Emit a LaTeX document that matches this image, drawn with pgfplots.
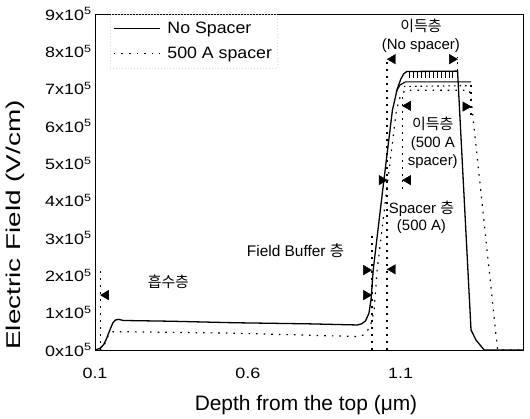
\documentclass[border=0pt]{standalone}
\usepackage{fontspec}
\setmainfont{Liberation Sans}
\newfontfamily\kr{Noto Sans CJK KR}
\newfontfamily\tickfam{Liberation Sans}[FakeStretch=1.2]
\newfontfamily\ylabfam{Liberation Sans}[FakeStretch=1.4]
\newfontfamily\legfam{Liberation Sans}[FakeStretch=1.08]
\usepackage{pgfplots}
\pgfplotsset{compat=1.18}

\begin{document}
\begin{tikzpicture}
\begin{axis}[
  width=428bp, height=336bp, scale only axis,
  xmin=0.1, xmax=1.5, ymin=0, ymax=9,
  clip=false,
  xtick={0.1,0.6,1.1}, xticklabels={0.1,0.6,1.1},
  ytick={0,1,2,3,4,5,6,7,8,9},
  yticklabels={0x10\textsuperscript{5},1x10\textsuperscript{5},2x10\textsuperscript{5},3x10\textsuperscript{5},4x10\textsuperscript{5},5x10\textsuperscript{5},6x10\textsuperscript{5},7x10\textsuperscript{5},8x10\textsuperscript{5},9x10\textsuperscript{5}},
  major tick length=0pt,
  tick label style={font={\tickfam\fontsize{15}{18}\selectfont}},
  xticklabel style={yshift=-15pt},
  xlabel={Depth from the top (μm)},
  ylabel={Electric Field (V/cm)},
  xlabel style={font={\fontsize{21}{24}\selectfont}, at={(rel axis cs:0.493,-0.164)}, anchor=center},
  ylabel style={font={\ylabfam\fontsize{20}{24}\selectfont}, at={(rel axis cs:-0.185,0.372)}, anchor=center},
  legend style={at={(rel axis cs:0.035,1)}, anchor=north west, draw=gray!30,
    dash pattern=on 1pt off 2pt, line width=0.4pt, fill=none,
    font={\legfam\fontsize{16.5}{19}\selectfont}, row sep=8pt, column sep=5pt,
    inner xsep=3pt, inner ysep=6pt},
  legend cell align=left,
  legend image code/.code={\draw[#1] (0bp,0bp) -- (46bp,0bp);},
]
% No spacer
\addplot[black, line width=1.3pt, solid] coordinates {
  (0.100,0.00) (0.116,0.04) (0.128,0.14) (0.136,0.27) (0.149,0.54) (0.158,0.72)
  (0.166,0.80) (0.177,0.82) (0.193,0.79) (0.350,0.77) (0.554,0.73) (0.800,0.70)
  (0.958,0.67) (0.972,0.70) (0.985,0.78) (0.996,0.98) (1.003,1.35) (1.010,2.14)
  (1.045,4.55) (1.073,6.43) (1.089,7.00) (1.100,7.25) (1.110,7.40) (1.120,7.46)
  (1.286,7.47) (1.330,0.54) (1.346,0.27) (1.373,0.00) (1.500,0.00)};
\addlegendentry{No Spacer}
% 500 A spacer
\addplot[black, line width=1.2pt, dash pattern=on 1.6pt off 6pt] coordinates {
  (0.116,0.00) (0.125,0.06) (0.133,0.18) (0.144,0.40) (0.155,0.49) (0.182,0.49)
  (0.554,0.45) (0.958,0.36) (0.975,0.39) (0.990,0.50) (1.002,0.67) (1.013,1.07)
  (1.023,2.14) (1.058,4.55) (1.086,6.43) (1.100,6.83) (1.116,6.96) (1.324,6.96)
  (1.330,6.74) (1.417,0.00) (1.500,0.00)};
\addlegendentry{500 A spacer}
% second plateaus
\addplot[black, line width=1.1pt, forget plot] coordinates {
  (1.085,6.92) (1.098,7.10) (1.115,7.18) (1.330,7.18)};
\addplot[black, line width=1.1pt, dash pattern=on 1.6pt off 4pt, forget plot] coordinates {
  (1.110,7.06) (1.325,7.08)};
\addplot[black, only marks, mark=|, mark size=3.3pt, line width=1pt, forget plot] coordinates {
  (1.128,7.37) (1.141,7.37) (1.154,7.37) (1.167,7.37) (1.180,7.37) (1.193,7.37)
  (1.206,7.37) (1.219,7.37) (1.232,7.37) (1.245,7.37) (1.258,7.37) (1.271,7.37)};
% layer boundaries
\addplot[black, line width=1.8pt, dash pattern=on 2pt off 5pt, forget plot] coordinates {(0.118,0) (0.118,2.2)};
\addplot[black, line width=1.8pt, dash pattern=on 2pt off 5pt, forget plot] coordinates {(1.005,0) (1.005,3.1)};
\addplot[black, line width=1.8pt, dash pattern=on 2pt off 5pt, forget plot] coordinates {(1.056,0) (1.056,7.8)};
\addplot[black, line width=1.8pt, dash pattern=on 2pt off 5pt, forget plot] coordinates {(1.106,4.3) (1.106,6.9)};
\addplot[black, line width=1.8pt, dash pattern=on 2pt off 5pt, forget plot] coordinates {(1.286,7.47) (1.286,7.85)};
\addplot[black, line width=1.8pt, dash pattern=on 2pt off 5pt, forget plot] coordinates {(1.330,6.3) (1.330,7.2)};
% arrow heads
\addplot[black, only marks, mark=triangle*, mark size=5.5pt, every mark/.append style={rotate=90}, forget plot] coordinates {
  (0.136,1.47) (1.074,2.16) (1.124,4.55) (1.124,6.54) (1.074,7.79)};
\addplot[black, only marks, mark=triangle*, mark size=5.5pt, every mark/.append style={rotate=-90}, forget plot] coordinates {
  (0.987,2.14) (0.987,1.47) (1.038,4.55) (1.312,6.52) (1.268,7.79)};
% labels
\node[font={\kr\fontsize{15}{18}\selectfont}] at (axis cs:0.34,1.83) {흡수층};
\node[font={\fontsize{15.5}{18}\selectfont}] at (axis cs:0.756,2.66) {Field Buffer {\kr 층}};
\node[font={\fontsize{15}{17.5}\selectfont}, align=center] at (axis cs:1.168,3.55) {Spacer {\kr 층}\\(500 A)};
\node[font={\fontsize{15}{18}\selectfont}, align=center] at (axis cs:1.205,5.55) {{\kr 이득층}\\(500 A\\spacer)};
\node[font={\fontsize{15}{18}\selectfont}, align=center] at (axis cs:1.166,8.42) {{\kr 이득층}\\(No spacer)};
\path (rel axis cs:-0.222,-0.2054) rectangle (rel axis cs:1.0164,1.0417);
\end{axis}
\end{tikzpicture}
\end{document}
